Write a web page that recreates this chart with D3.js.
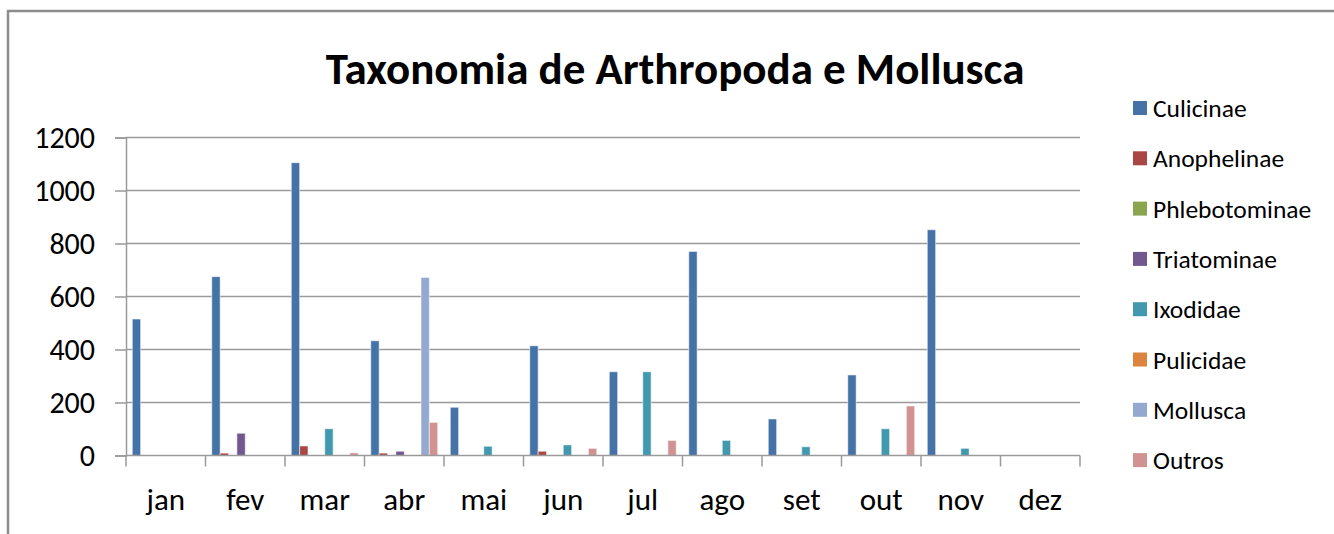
<!DOCTYPE html>
<html><head><meta charset="utf-8">
<script src="https://cdn.jsdelivr.net/npm/d3@7"></script>
<style>
html,body{margin:0;padding:0;background:#fff;}
svg{display:block;}
text{font-family:Carlito, Calibri, Lato, sans-serif;fill:#000;}
</style></head><body>
<svg id="c" width="1334" height="534"></svg>
<script>
const months = ["jan","fev","mar","abr","mai","jun","jul","ago","set","out","nov","dez"];
const seriesNames = ["Culicinae","Anophelinae","Phlebotominae","Triatominae","Ixodidae","Pulicidae","Mollusca","Outros"];
const colors = ["#4572A7","#AA4643","#89A54E","#71588F","#4198AF","#DB843D","#93A9CF","#D19392"];
const culicinae     = [515, 675, 1105, 433, 182, 414, 316, 770, 138, 304, 852, 0];
const anophelinae   = [0, 9, 36, 9, 0, 16, 0, 0, 0, 0, 0, 0];
const phlebotominae = [0, 0, 0, 0, 0, 0, 0, 0, 0, 0, 0, 0];
const triatominae   = [0, 84, 0, 16, 0, 0, 0, 0, 0, 0, 0, 0];
const ixodidae      = [0, 0, 101, 0, 35, 40, 316, 57, 33, 101, 27, 0];
const pulicidae     = [0, 0, 0, 0, 0, 0, 0, 0, 0, 0, 0, 0];
const mollusca      = [0, 0, 0, 672, 0, 0, 0, 0, 0, 0, 0, 0];
const outros        = [0, 0, 10, 125, 0, 27, 57, 0, 0, 187, 0, 0];
const yTicks = [0, 200, 400, 600, 800, 1000, 1200];
const title = "Taxonomia de Arthropoda e Mollusca";

const seriesValues = [culicinae, anophelinae, phlebotominae, triatominae, ixodidae, pulicidae, mollusca, outros];

const svg = d3.select("#c");
const pLeft = 126, pRight = 1080, pTop = 137.5, pBottom = 455.5;
const FONT = "Carlito, Calibri, Lato, sans-serif";

// frame
svg.append("path").attr("d", `M8,534 L8,11 L1334,11`).attr("fill","none")
  .attr("stroke","#8c8c8c").attr("stroke-width",2.5);

const x0 = d3.scaleBand().domain(months).range([pLeft, pRight]).padding(0);
const bw = x0.bandwidth();
const gap = bw * 1.5 / 9.5;
const x1 = d3.scaleBand().domain(seriesNames).range([gap/2, bw - gap/2]).padding(0);
const y = d3.scaleLinear().domain([0, 1200]).range([pBottom, pTop]);

// gridlines
svg.append("g").selectAll("line").data(yTicks.filter(d=>d>0)).join("line")
  .attr("x1", pLeft).attr("x2", pRight).attr("y1", d=>y(d)).attr("y2", d=>y(d))
  .attr("stroke","#9a9a9a").attr("stroke-width",1.5);

// y axis
const yAxis = d3.axisLeft(y).tickValues(yTicks).tickSize(11).tickPadding(20).tickFormat(d3.format("d"));
const gy = svg.append("g").attr("transform", `translate(${pLeft},0)`).call(yAxis);
gy.select(".domain").attr("stroke","#9a9a9a").attr("stroke-width",1.5);
gy.selectAll(".tick line").attr("stroke","#9a9a9a").attr("stroke-width",1.5);
gy.selectAll(".tick text").attr("font-size",30).attr("fill","#000").style("font-family",FONT);

// bars
const rows = [];
seriesNames.forEach((s, si) => months.forEach((m, mi) => rows.push({s, m, v: seriesValues[si][mi], c: colors[si]})));
svg.append("g").selectAll("rect").data(rows.filter(d=>d.v>0)).join("rect")
  .attr("x", d => x0(d.m) + x1(d.s))
  .attr("width", x1.bandwidth())
  .attr("y", d => y(d.v))
  .attr("height", d => y(0) - y(d.v))
  .attr("fill", d => d.c)
  .attr("stroke", "rgba(255,255,255,0.55)").attr("stroke-width", 1);

// x axis
const gx = svg.append("g").attr("transform", `translate(0,${pBottom})`);
gx.append("line").attr("x1", pLeft).attr("x2", pRight).attr("stroke","#9a9a9a").attr("stroke-width",1.5);
const bounds = months.map(m => x0(m)).concat([pRight]);
gx.selectAll("line.tk").data(bounds).join("line").attr("class","tk")
  .attr("x1", d=>d).attr("x2", d=>d).attr("y1", 0).attr("y2", 11)
  .attr("stroke","#9a9a9a").attr("stroke-width",1.5);
gx.selectAll("text.lbl").data(months).join("text").attr("class","lbl")
  .attr("x", d => x0(d) + bw/2).attr("y", 54).attr("text-anchor","middle")
  .attr("font-size", 31).text(d=>d);

// title
svg.append("text").attr("x", 675).attr("y", 84).attr("text-anchor","middle")
  .attr("font-size", 45).attr("font-weight","bold").text(title);

// legend
const lg = svg.append("g");
seriesNames.forEach((s, i) => {
  const cy = 108 + i * 50.3;
  lg.append("rect").attr("x", 1133).attr("y", cy - 7).attr("width", 14).attr("height", 14).attr("fill", colors[i]);
  lg.append("text").attr("x", 1153).attr("y", cy + 9).attr("font-size", 25.5).text(s);
});
</script>
</body></html>
